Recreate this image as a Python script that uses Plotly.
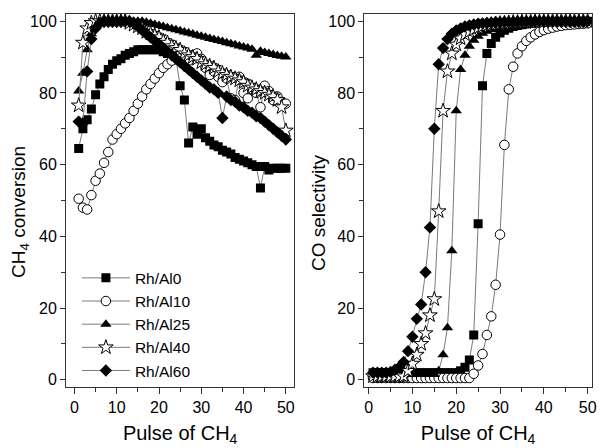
import plotly.graph_objects as go

pulses = [1, 2, 3, 4, 5, 6, 7, 8, 9, 10, 11, 12, 13, 14, 15, 16, 17, 18, 19, 20,
          21, 22, 23, 24, 25, 26, 27, 28, 29, 30, 31, 32, 33, 34, 35, 36, 37, 38, 39, 40,
          41, 42, 43, 44, 45, 46, 47, 48, 49, 50]

series_names = ["Rh/Al0", "Rh/Al10", "Rh/Al25", "Rh/Al40", "Rh/Al60"]

# CH4 conversion (%)
conv_al0 = [64.5, 70, 72.5, 75.5, 79.5, 82.5, 84.5, 86.5, 88, 89, 89.5, 90.5, 91, 91.5, 92, 92, 92, 92, 92, 92,
            91.5, 91, 90.5, 89.5, 82, 78, 66, 70.5, 68.5, 70, 67.5, 66.5, 65.5, 65, 64, 63.5, 63, 62, 61.5, 61,
            60.5, 60, 59.5, 53.5, 59.5, 58.5, 59, 59, 59, 59]
conv_al10 = [50.5, 48, 47.5, 51.5, 55.5, 57.5, 60.5, 63.5, 67, 68.5, 70, 71.5, 73, 75, 77, 79, 81, 82.5, 84, 85.5,
             87, 88, 89, 90, 91, 89.5, 89, 90.5, 91, 89.5, 87, 85, 86, 84.5, 83, 84, 78.5, 78, 84.5, 80,
             78.5, 81, 80, 76, 82, 80.5, 78, 79, 77.5, 77]
conv_al25 = [80.5, 85.5, 92, 96.5, 98.5, 99.5, 100, 100, 100, 100, 100, 100, 100, 100, 100, 100, 99.7, 99.4, 99.1, 98.8,
             98.5, 98.2, 97.9, 97.6, 97.3, 97, 96.7, 96.4, 96.1, 95.8, 95.5, 95.2, 94.9, 94.6, 94.3, 94, 93.7, 93.4, 93.1, 92.8,
             92.5, 92.2, 90.5, 91.6, 91.3, 91, 90.7, 90.4, 90.2, 90]
conv_al40 = [76.5, 94, 98, 99.5, 100, 100, 100, 100, 100, 100, 100, 100, 99.5, 99, 98.5, 98, 97, 96.5, 96, 95.5,
             94.5, 94, 93, 92.5, 92, 91, 90.5, 90, 89.5, 88.5, 88, 87.5, 87, 86, 85.5, 85, 84.5, 84, 83.5, 83,
             82, 81.5, 81, 80.5, 80, 79.5, 79, 78, 76, 69.5]
conv_al60 = [72, 71.5, 86, 95, 98, 99.5, 100, 100, 100, 100, 100, 100, 100, 99.5, 98.5, 97.5, 96.5, 95.5, 94.5, 93.5,
             92.5, 91.5, 90.5, 89.5, 88.5, 87.5, 86.5, 85.5, 84.5, 83.5, 82.5, 81.5, 81, 80, 73, 79, 78, 77.5, 76.5, 76,
             75, 74.5, 73.5, 73, 72, 71, 70, 69, 68, 67]

# CO selectivity (%)
sel_al0 = [2, 2, 2, 2, 2, 2, 2, 2, 2, 2, 2, 2, 2, 2, 2, 2, 2, 2, 2, 2,
           2.5, 3.5, 5.5, 12.5, 43.5, 82, 91, 93.8, 95.5, 96.7, 97.5, 98, 98.5, 98.8, 99, 99.2, 99.4, 99.5, 99.6, 99.7,
           99.7, 99.8, 99.8, 99.8, 99.9, 99.9, 99.9, 99.9, 100, 100]
sel_al10 = [0.5, 0.5, 0.5, 0.5, 0.5, 0.5, 0.5, 0.5, 0.5, 0.5, 0.5, 0.5, 0.5, 0.5, 0.5, 0.5, 0.5, 0.5, 0.5, 0.5,
            0.5, 0.5, 0.5, 1.7, 4, 7.2, 12.5, 17.7, 26.5, 40.5, 65.5, 81, 87.3, 91, 93, 94.5, 95.5, 96.3, 97, 97.5,
            97.9, 98.2, 98.5, 98.7, 98.9, 99, 99.1, 99.2, 99.3, 99.4]
sel_al25 = [1.5, 1.5, 1.5, 1.5, 1.5, 1.5, 1.5, 1.5, 1.5, 1.5, 1.5, 1.5, 1.5, 1.5, 1.5, 2.5, 7, 14.5, 36, 75,
            86.5, 90.5, 93, 94.7, 95.8, 96.6, 97.2, 97.7, 98.1, 98.4, 98.7, 98.9, 99.1, 99.3, 99.4, 99.5, 99.6, 99.7, 99.7, 99.8,
            99.8, 99.8, 99.9, 99.9, 99.9, 99.9, 100, 100, 100, 100]
sel_al40 = [1, 1, 1, 1, 1, 1, 1, 1, 2.5, 4.5, 7, 10, 13, 18, 22.5, 47, 75, 86, 91, 93.5,
            95.2, 96.3, 97.1, 97.7, 98.2, 98.6, 98.9, 99.1, 99.3, 99.4, 99.5, 99.6, 99.7, 99.7, 99.8, 99.8, 99.8, 99.9, 99.9, 99.9,
            99.9, 100, 100, 100, 100, 100, 100, 100, 100, 100]
sel_al60 = [2, 2, 2, 2, 2.2, 2.8, 3.5, 5, 8, 12, 17, 21, 30, 42.5, 70, 88, 92.5, 95, 96.5, 97.4,
            98, 98.5, 98.8, 99.1, 99.3, 99.4, 99.5, 99.6, 99.7, 99.7, 99.8, 99.8, 99.8, 99.9, 99.9, 99.9, 99.9, 100, 100, 100,
            100, 100, 100, 100, 100, 100, 100, 100, 100, 100]

conv_data = [conv_al0, conv_al10, conv_al25, conv_al40, conv_al60]
sel_data = [sel_al0, sel_al10, sel_al25, sel_al40, sel_al60]

styles = [
    dict(symbol="square", size=9, color="black", line=dict(color="black", width=0)),
    dict(symbol="circle", size=9.5, color="white", line=dict(color="black", width=1)),
    dict(symbol="triangle-up", size=10, color="black", line=dict(color="black", width=0)),
    dict(symbol="star", size=11, color="white", line=dict(color="black", width=1)),
    dict(symbol="diamond", size=9.5, color="black", line=dict(color="black", width=0)),
]

FONT = "Liberation Sans, Arial, sans-serif"
LINE = dict(color="#7a7a7a", width=1)

fig = go.Figure()
for name, y, st in zip(series_names, conv_data, styles):
    fig.add_trace(go.Scatter(x=pulses, y=y, name=name, mode="lines+markers",
                             line=LINE, marker=st, xaxis="x", yaxis="y"))
for name, y, st in zip(series_names, sel_data, styles):
    fig.add_trace(go.Scatter(x=pulses, y=y, name=name, mode="lines+markers",
                             line=LINE, marker=st, xaxis="x2", yaxis="y2", showlegend=False))

axis_common = dict(showline=True, linecolor="#333", linewidth=1, mirror=True,
                   ticks="outside", tickcolor="#333", showgrid=False, zeroline=False,
                   tickfont=dict(family=FONT, size=16, color="black"))

xcommon = dict(axis_common, range=[-2, 52], dtick=10, tick0=0, ticklen=6,
               minor=dict(dtick=5, tick0=0, ticks="outside", ticklen=4, tickcolor="#333"),
               title=dict(text="Pulse of CH<sub>4</sub>", font=dict(family=FONT, size=20, color="black"),
                          standoff=10))
ycommon = dict(axis_common, range=[-2, 102], dtick=20, tick0=0, ticklen=5,
               minor=dict(dtick=10, tick0=0, ticks="outside", ticklen=4, tickcolor="#333"))

fig.update_layout(
    width=605, height=448,
    margin=dict(l=66, r=8, t=14, b=60),
    paper_bgcolor="white", plot_bgcolor="white",
    font=dict(family=FONT, color="black"),
    xaxis=dict(xcommon, domain=[0, 0.434], anchor="y"),
    yaxis=dict(ycommon, domain=[0, 1], anchor="x"),
    xaxis2=dict(xcommon, domain=[0.567, 1], anchor="y2", range=[-1, 51]),
    yaxis2=dict(ycommon, domain=[0, 1], anchor="x2"),
    legend=dict(x=0.0207, y=0.337, xanchor="left", yanchor="top",
                bgcolor="rgba(0,0,0,0)", borderwidth=0,
                font=dict(family=FONT, size=15.5, color="black"),
                tracegroupgap=0, itemwidth=48),
    showlegend=True,
    annotations=[
        dict(text="CH<sub>4</sub> conversion", textangle=-90, xref="paper", yref="paper",
             x=(20 - 66) / 531, y=1 - (212 - 14) / 374, xanchor="center", yanchor="middle",
             showarrow=False, font=dict(family=FONT, size=19, color="black")),
        dict(text="CO selectivity", textangle=-90, xref="paper", yref="paper",
             x=(321 - 66) / 531, y=1 - (213 - 14) / 374, xanchor="center", yanchor="middle",
             showarrow=False, font=dict(family=FONT, size=19, color="black")),
    ],
)

fig.write_html("out.html", config={"displayModeBar": False},
               post_script="document.body.style.margin='0';document.body.style.padding='0';")
